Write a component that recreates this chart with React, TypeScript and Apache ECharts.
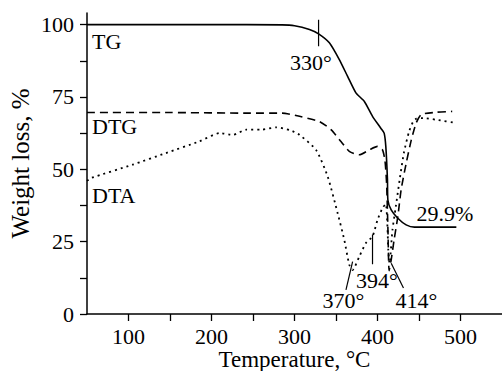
import React, { useEffect, useRef } from "react";
import * as echarts from "echarts";

// Temperature (°C) and weight loss (%) readings
const tgTemp = [50, 100, 200, 285, 300, 318, 329, 342, 354, 364, 374, 384, 394, 404, 408, 410, 412, 412.5, 416.5, 424.5, 434.5, 444.6, 470, 495];
const tgValue = [100, 100, 100, 99.9, 99.6, 98.3, 96.8, 93.7, 87.9, 82.1, 76.4, 73.5, 68.3, 64.2, 62.5, 57.9, 46.4, 39.4, 36, 33.1, 30.8, 30, 30, 30];

const dtgTemp = [50, 150, 245, 285, 306, 330, 344, 356, 366, 378, 390, 400, 406, 409, 411, 412.5, 414, 416.5, 420, 424.5, 428.5, 434.5, 440.6, 446.6, 452.6, 470.7, 490];
const dtgValue = [69.6, 69.6, 69.4, 69.4, 68.3, 66.5, 63.7, 59.6, 56.2, 55, 56.7, 57.9, 56.7, 53, 45, 30, 15, 18.7, 25.6, 33.7, 43, 52, 60, 66, 68.9, 69.7, 70];

const dtaTemp = [50, 55, 105, 145, 185, 210, 226, 242, 260, 278, 295, 306, 326, 340, 352, 360, 366, 370, 378, 386, 394, 400, 406, 410, 412, 413, 414.5, 418, 422, 427, 432, 438, 443, 447, 455, 471, 495];
const dtaValue = [46, 47, 51.6, 55.6, 59.6, 62.5, 61.9, 63.7, 63.7, 64.5, 63.5, 61.9, 56.7, 47.5, 34.8, 25.6, 17, 15.2, 19.8, 24.5, 26.8, 32.5, 36.6, 38, 30, 22, 17.5, 29, 37, 47, 56, 63, 66.5, 67.5, 67.7, 67.1, 66];

const yTicks = [0, 25, 50, 75, 100];
const yMinorTicks = [0, 12.5, 25, 37.5, 50, 62.5, 75, 87.5, 100];
const xTicks = [100, 200, 300, 400, 500];
const xMinorTicks = [100, 150, 200, 250, 300, 350, 400, 450, 500];

// annotation leader lines: [temp, value] pairs
const leader330 = [[329, 101.7], [329, 92.5]];
const leader370 = [[362, 8.3], [370, 18.1]];
const leader394 = [[394, 27.5], [394, 17.2]];
const leader414 = [[416.5, 17.5], [431.3, 9]];

const FONT = "'Liberation Serif', 'Times New Roman', serif";

const zip = (a: number[], b: number[]) => a.map((v, i) => [v, b[i]]);

export default function App() {
  const ref = useRef<HTMLDivElement>(null);
  useEffect(() => {
    if (!ref.current) return;
    const chart = echarts.init(ref.current, undefined, { renderer: "svg" });
    const txt = (text: string, x: number, y: number) => ({
      type: "text",
      x,
      y,
      style: {
        text,
        fill: "#000",
        font: `22px ${FONT}`,
        align: "left",
        verticalAlign: "middle",
      },
    });
    const leader = (data: number[][]) => ({
      type: "line",
      data,
      symbol: "none",
      silent: true,
      lineStyle: { color: "#000", width: 1.2, type: "solid" },
    });
    chart.setOption({
      animation: false,
      backgroundColor: "#fff",
      grid: { left: 87, right: 0, top: 13, bottom: 57, outerBoundsMode: "none", containLabel: false },
      xAxis: {
        type: "value",
        min: 50,
        max: 550,
        name: "Temperature, °C",
        nameLocation: "middle",
        nameGap: 34,
        nameMoveOverlap: false,
        nameTextStyle: { fontFamily: FONT, fontSize: 23, color: "#000", verticalAlign: "top" },
        axisLine: { lineStyle: { color: "#000", width: 1.5 } },
        axisTick: { show: true, length: 7, customValues: xMinorTicks, lineStyle: { color: "#000", width: 1.3 } },
        axisLabel: { customValues: xTicks, fontFamily: FONT, fontSize: 22, color: "#000", margin: 11 },
        splitLine: { show: false },
      },
      yAxis: {
        type: "value",
        min: 0,
        max: 104,
        name: "Weight loss, %",
        nameLocation: "middle",
        nameGap: 54,
        nameMoveOverlap: false,
        nameTextStyle: { fontFamily: FONT, fontSize: 25, color: "#000" },
        axisLine: { show: true, lineStyle: { color: "#000", width: 1.5 } },
        axisTick: { show: true, length: 7, customValues: yMinorTicks, lineStyle: { color: "#000", width: 1.3 } },
        axisLabel: { customValues: yTicks, fontFamily: FONT, fontSize: 22, color: "#000", margin: 13 },
        splitLine: { show: false },
      },
      series: [
        {
          name: "TG",
          type: "line",
          data: zip(tgTemp, tgValue),
          symbol: "none",
          smooth: 0.2,
          lineStyle: { color: "#000", width: 1.6, type: "solid" },
        },
        {
          name: "DTG",
          type: "line",
          data: zip(dtgTemp, dtgValue),
          symbol: "none",
          smooth: 0.2,
          lineStyle: { color: "#000", width: 1.6, type: [8, 5] },
        },
        {
          name: "DTA",
          type: "line",
          data: zip(dtaTemp, dtaValue),
          symbol: "none",
          smooth: 0.2,
          lineStyle: { color: "#000", width: 1.8, type: [2, 4] },
        },
        leader(leader330),
        leader(leader370),
        leader(leader394),
        leader(leader414),
      ],
      graphic: [
        txt("TG", 92, 41),
        txt("DTG", 92, 126.5),
        txt("DTA", 92, 195),
        txt("330°", 290, 62),
        txt("29.9%", 416.5, 213.5),
        txt("394°", 356, 280),
        txt("370°", 322.5, 300.5),
        txt("414°", 395.5, 300.5),
      ],
    });
    return () => chart.dispose();
  }, []);
  return (
    <div
      ref={ref}
      style={{ position: "absolute", left: 0, top: 0, width: 502, height: 371 }}
    />
  );
}
